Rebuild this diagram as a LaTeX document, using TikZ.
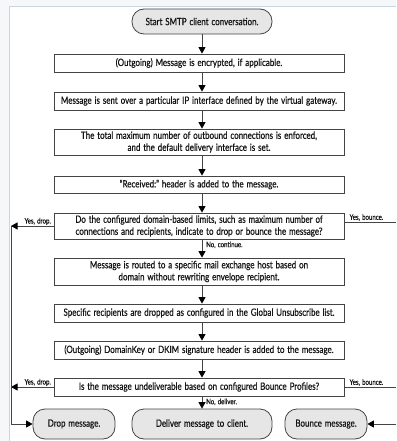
\documentclass[tikz,border=0pt]{standalone}
\usepackage{fontspec}
\setmainfont{Lato}[FakeStretch=0.8, WordSpace=1.4, FakeBold=0.6]
\usetikzlibrary{arrows.meta,positioning}
\definecolor{txt}{HTML}{151515}
\definecolor{edge}{HTML}{444444}
\definecolor{termfill}{HTML}{E6E6E6}
\definecolor{framec}{HTML}{C9D3E2}
\definecolor{outside}{HTML}{F6F7F9}
\tikzset{
  box/.style={draw=edge, line width=0.8pt, fill=white, minimum width=290pt, inner sep=0pt, align=center, text=txt, font=\fontsize{10}{12}\selectfont},
  term/.style={draw=edge, line width=0.8pt, fill=termfill, rounded corners=12pt, inner sep=0pt, align=center, text=txt, font=\fontsize{10}{12}\selectfont},
  conn/.style={draw=edge, line width=0.8pt},
  arr/.style={draw=edge, line width=0.8pt, -{Triangle[width=7pt,length=6.5pt,color=black,fill=black]}},
  lab/.style={inner sep=1pt, text=txt, font=\fontsize{7.6}{8.5}\selectfont},
}
\begin{document}
\begin{tikzpicture}[x=1pt,y=-1pt]
\useasboundingbox (0,0) rectangle (396,441);
\fill[outside] (0,0) rectangle (396,441);
\fill[white] (9,7) rectangle (396,441);
\draw[framec, line width=1pt] (9,441) -- (9,7) -- (396,7);
\coordinate (col) at (202,0);
\coordinate (lx) at (11,0);
\coordinate (rx) at (396,0);
\node[term, minimum width=140pt, minimum height=25pt] (start) at (202,21.5) {Start SMTP client conversation.};
\node[box, minimum height=18pt] (b1) at (199,63) {(Outgoing) Message is encrypted, if applicable.};
\node[box, minimum height=18pt] (b2) at (199,101) {Message is sent over a particular IP interface defined by the virtual gateway.};
\node[box, minimum height=26pt] (b3) at (199,142) {The total maximum number of outbound connections is enforced,\\and the default delivery interface is set.};
\node[box, minimum height=17pt] (b4) at (199,184.5) {\char"201CReceived:\char"201D\ header is added to the message.};
\node[box, minimum height=26pt] (b5) at (199,226) {Do the configured domain-based limits, such as maximum number of\\connections and recipients, indicate to drop or bounce the message?};
\node[box, minimum height=27pt] (b6) at (199,271.5) {Message is routed to a specific mail exchange host based on\\domain without rewriting envelope recipient.};
\node[box, minimum height=18pt] (b7) at (199,313) {Specific recipients are dropped as configured in the Global Unsubscribe list.};
\node[box, minimum height=18pt] (b8) at (199,350) {(Outgoing) DomainKey or DKIM signature header is added to the message.};
\node[box, minimum height=18pt] (b9) at (199,387) {Is the message undeliverable based on configured Bounce Profiles?};
\node[term, minimum width=82pt, minimum height=30pt] (drop) at (74,424) {Drop message.};
\node[term, minimum width=140pt, minimum height=30pt] (deliver) at (202,424) {Deliver message to client.};
\node[term, minimum width=82pt, minimum height=30pt] (bounce) at (326,424) {Bounce message.};
% main column
\draw[arr] (start.south) -- (b1.north -| col);
\draw[arr] (b1.south -| col) -- (b2.north -| col);
\draw[arr] (b2.south -| col) -- (b3.north -| col);
\draw[arr] (b3.south -| col) -- (b4.north -| col);
\draw[arr] (b4.south -| col) -- (b5.north -| col);
\draw[arr] (b5.south -| col) -- (b6.north -| col);
\draw[arr] (b6.south -| col) -- (b7.north -| col);
\draw[arr] (b7.south -| col) -- (b8.north -| col);
\draw[arr] (b8.south -| col) -- (b9.north -| col);
\draw[arr] (b9.south -| col) -- (deliver.north);
% drop branch
\draw[arr] (b5.west) -- (b5.west -| lx);
\draw[arr] (b9.west) -- (b9.west -| lx);
\draw[conn] (b5.west -| lx) -- (drop.west -| lx);
\draw[arr] (drop.west -| lx) -- (drop.west);
% bounce branch
\draw[conn] ([yshift=4pt]b5.east) -- ([yshift=4pt]b5.east -| rx);
\draw[conn] (b9.east) -- (b9.east -| rx);
\draw[arr] (bounce.east -| rx) -- (bounce.east);
% labels
\node[lab, anchor=south east] at ([xshift=-1.5pt]b5.west) {Yes, drop.};
\node[lab, anchor=south east] at ([xshift=-1.5pt]b9.west) {Yes, drop.};
\node[lab, anchor=south west] at ([xshift=4pt,yshift=4pt]b5.east) {Yes, bounce.};
\node[lab, anchor=south west] at ([xshift=4pt]b9.east) {Yes, bounce.};
\node[lab, anchor=north west] at ([xshift=3pt,yshift=-1pt]b5.south -| col) {No, continue.};
\node[lab, anchor=north west] at ([xshift=3pt,yshift=-1pt]b9.south -| col) {No, deliver.};
\end{tikzpicture}
\end{document}
